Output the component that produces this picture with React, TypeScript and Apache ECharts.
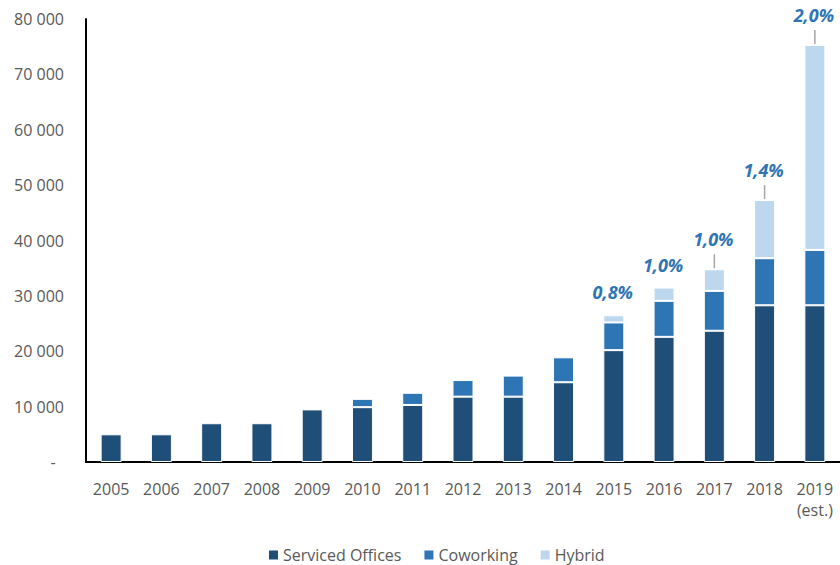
import React, { useEffect, useRef } from "react";
import * as echarts from "echarts";

const years = ["2005", "2006", "2007", "2008", "2009", "2010", "2011", "2012", "2013", "2014", "2015", "2016", "2017", "2018", "2019\n(est.)"];
const servicedOffices = [5000, 5000, 7000, 7000, 9500, 9900, 10300, 11800, 11800, 14400, 20200, 22600, 23700, 28300, 28300];
const coworking = [0, 0, 0, 0, 0, 1500, 2200, 3000, 3800, 4500, 5000, 6500, 7200, 8500, 10000];
const hybrid = [0, 0, 0, 0, 0, 0, 0, 0, 0, 0, 1300, 2400, 3900, 10500, 37000];
const shareLabels = ["", "", "", "", "", "", "", "", "", "", "0,8%", "1,0%", "1,0%", "1,4%", "2,0%"];
const hasLeader = [false, false, false, false, false, false, false, false, false, false, false, false, true, true, true];
const yTicks = { min: 0, max: 80000, interval: 10000 };

const FONT = '"Open Sans", "Noto Sans", sans-serif';
const TEXT = "#595959";

export default function App() {
  const ref = useRef<HTMLDivElement>(null);
  useEffect(() => {
    if (!ref.current) return;
    const chart = echarts.init(ref.current, undefined, { renderer: "svg" });
    const toData = (arr: number[]) => arr.map((v) => (v === 0 ? "-" : v));
    const totals = years.map((_, i) => servicedOffices[i] + coworking[i] + hybrid[i]);
    const labelData = years
      .map((_, i) => [i, totals[i], shareLabels[i], hasLeader[i] ? 1 : 0])
      .filter((d) => d[2] !== "");
    const barCommon = {
      type: "bar",
      stack: "total",
      barWidth: 21,
      itemStyle: { borderColor: "#ffffff", borderWidth: 1 },
    };
    chart.setOption({
      animation: false,
      textStyle: { fontFamily: FONT },
      grid: { left: 86, right: -3, top: 19, bottom: 103, containLabel: false },
      legend: {
        top: 547,
        padding: 0,
        left: 267,
        itemWidth: 11,
        itemHeight: 11,
        itemGap: 21,
        icon: "rect",
        textStyle: { color: TEXT, fontSize: 16, fontFamily: FONT, padding: [0, 0, 0, -1] },
        data: ["Serviced Offices", "Coworking", "Hybrid"],
      },
      xAxis: {
        type: "category",
        data: years,
        axisLine: { lineStyle: { color: "#000", width: 2 } },
        axisTick: { show: false },
        axisLabel: { color: TEXT, fontSize: 16, margin: 16, lineHeight: 21, fontFamily: FONT, interval: 0 },
      },
      yAxis: {
        type: "value",
        min: yTicks.min,
        max: yTicks.max,
        interval: yTicks.interval,
        axisLine: { show: true, lineStyle: { color: "#000", width: 2 } },
        axisTick: { show: false },
        splitLine: { show: false },
        axisLabel: {
          color: TEXT,
          fontSize: 16,
          margin: 22,
          fontFamily: FONT,
          formatter: (v: number) => (v === 0 ? "-  " : String(v).replace(/\B(?=(\d{3})+(?!\d))/g, " ")),
        },
      },
      series: [
        { ...barCommon, name: "Serviced Offices", data: toData(servicedOffices), itemStyle: { ...barCommon.itemStyle, color: "#1F4E79" } },
        { ...barCommon, name: "Coworking", data: toData(coworking), itemStyle: { ...barCommon.itemStyle, color: "#2E75B6" } },
        { ...barCommon, name: "Hybrid", data: toData(hybrid), itemStyle: { ...barCommon.itemStyle, color: "#BDD7EE" } },
        {
          type: "custom",
          name: "share",
          silent: true,
          data: labelData,
          encode: { x: 0, y: 1 },
          renderItem: (params: any, api: any) => {
            const p = api.coord([api.value(0), api.value(1)]);
            const idx = params.dataIndex;
            const d = labelData[idx];
            const leader = d[3] === 1;
            const children: any[] = [];
            if (leader) {
              children.push({
                type: "line",
                shape: { x1: p[0], y1: p[1] - 1, x2: p[0], y2: p[1] - 15 },
                style: { stroke: "#A6A6A6", lineWidth: 1.5 },
              });
            }
            children.push({
              type: "text",
              style: {
                text: d[2],
                x: p[0] - 1,
                y: p[1] - (leader ? 30 : 23),
                align: "center",
                verticalAlign: "middle",
                fill: "#2E75B6",
                fontSize: 18,
                fontWeight: "bold",
                fontStyle: "italic",
                fontFamily: FONT,
              },
            });
            return { type: "group", children };
          },
          z: 10,
        },
      ],
    });
    return () => chart.dispose();
  }, []);
  return <div ref={ref} style={{ position: "absolute", left: 0, top: 0, width: 840, height: 565 }} />;
}
